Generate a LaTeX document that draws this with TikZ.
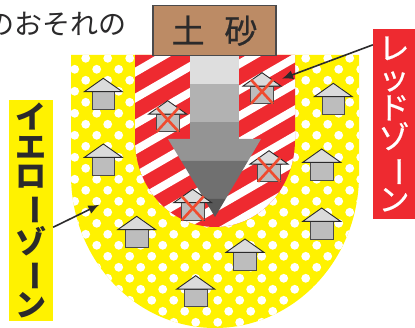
\documentclass[tikz,border=0pt]{standalone}
\usepackage{fontspec}
\usepackage{graphicx}
\usetikzlibrary{arrows.meta}
\newfontfamily\cjk{Noto Sans CJK JP}
\newfontfamily\cjkmid[FakeBold=0.6]{Noto Sans CJK JP}
\definecolor{zoneyellow}{HTML}{FFF200}
\definecolor{zonered}{HTML}{EE2A30}
\definecolor{soilbrown}{HTML}{BC8B65}
\definecolor{inkgray}{HTML}{2B2A2B}
\definecolor{crossred}{HTML}{EF4B2F}
\newcommand{\barmark}{\rotatebox[origin=c]{-90}{ー}}
\tikzset{
    zonelabel/.style={inner sep=0pt, align=center},
    leader/.style={draw=inkgray, line width=1.6pt, -{Latex[length=11pt,width=9pt]}},
    pics/house/.style={code={
        \fill[black!26, draw=inkgray!85, line width=0.9pt] (-11.3,13.4) rectangle (11.3,31);
        \fill[black!14, draw=inkgray, line width=0.9pt, line join=miter] (0,0) -- (19,13.4) -- (-19,13.4) -- cycle;
    }},
    pics/badhouse/.style={code={
        \pic {house};
        \draw[crossred, line width=2.6pt] (-11,7) -- (11,31) (11,7) -- (-11,31);
    }},
}
\begin{document}
\begin{tikzpicture}[x=1pt, y=-1pt]
    \useasboundingbox (0,0) rectangle (415,328);
    \clip (0,0) rectangle (415,328);
    % yellow zone
    \begin{scope}
        \path[clip] (71,55) -- (71,175) arc[x radius=144, y radius=153, start angle=180, delta angle=-180] -- (359,55) -- cycle;
        \fill[zoneyellow] (60,50) rectangle (370,330);
        \foreach \i in {-1,...,13} {
            \foreach \j in {-1,...,12} {
                \fill[white] (63.7+22*\i,58.3+22*\j) circle[radius=4.4];
                \fill[white] (74.7+22*\i,69.3+22*\j) circle[radius=4.4];
            }
        }
    \end{scope}
    % red zone
    \begin{scope}
        \path[clip] (135,55) -- (135,140) arc[x radius=80, y radius=87, start angle=180, delta angle=-180] -- (295,55) -- cycle;
        \fill[zonered] (130,50) rectangle (300,230);
        \foreach \k in {-2,...,12} {
            \draw[white, line width=8pt] (125,78+26*\k) -- (305,78+26*\k-104);
        }
    \end{scope}
    % soil arrow
    \fill[black!13] (190,55) rectangle (239,84);
    \fill[black!30] (190,84) rectangle (239,122);
    \fill[black!42] (190,122) rectangle (239,139);
    \fill[black!42] (168,139) -- (261,139) -- (248,161) -- (181.3,161) -- cycle;
    \fill[black!56] (181.3,161) -- (248,161) -- (225.6,199) -- (204.2,199) -- cycle;
    \fill[black!66] (204.2,199) -- (225.6,199) -- (215,217) -- cycle;
    % houses
    \foreach \hx/\hy in {103.3/78.3, 333.3/83.3, 103.3/144, 321.7/149, 136.7/216.3, 195.7/275.7, 245/239, 321.7/208} {
        \pic at (\hx,\hy) {house};
    }
    \foreach \hx/\hy in {167.7/100.7, 262/72.7, 269/150.7, 192.7/189.3} {
        \pic at (\hx,\hy) {badhouse};
    }
    % labels
    \node[fill=soilbrown, draw=inkgray!85, line width=1.1pt, minimum width=123pt, minimum height=49.5pt, inner sep=0pt,
        text=inkgray, font=\cjkmid\fontsize{33}{33}\selectfont] (soilbox) at (214.5,30.7) {土\hspace{0.6em}砂};
    \node[anchor=east, inner sep=0pt, text=inkgray, font=\cjk\fontsize{28}{28}\selectfont] (cuttext) at (127,24) {のおそれの};
    \node[fill=zoneyellow, minimum width=44pt, minimum height=221pt, zonelabel, text=inkgray,
        font=\cjk\bfseries\fontsize{31}{29.7}\selectfont] (yellowzone) at (31,210.5)
        {イ\\エ\\ロ\\\barmark\\ゾ\\\barmark\\ン};
    \node[fill=zonered, minimum width=42pt, minimum height=190pt, zonelabel, text=white,
        font=\cjkmid\fontsize{31}{29.7}\selectfont] (redzone) at (394,124)
        {レ\\ッ\\ド\\ゾ\\\barmark\\ン};
    % leaders
    \coordinate (redtip) at (282,78.7);
    \coordinate (yellowtip) at (99.3,204.7);
    \draw[leader] (redzone.105.3) -- (redtip);
    \draw[leader] (yellowzone.-37.4) -- (yellowtip);
\end{tikzpicture}
\end{document}
